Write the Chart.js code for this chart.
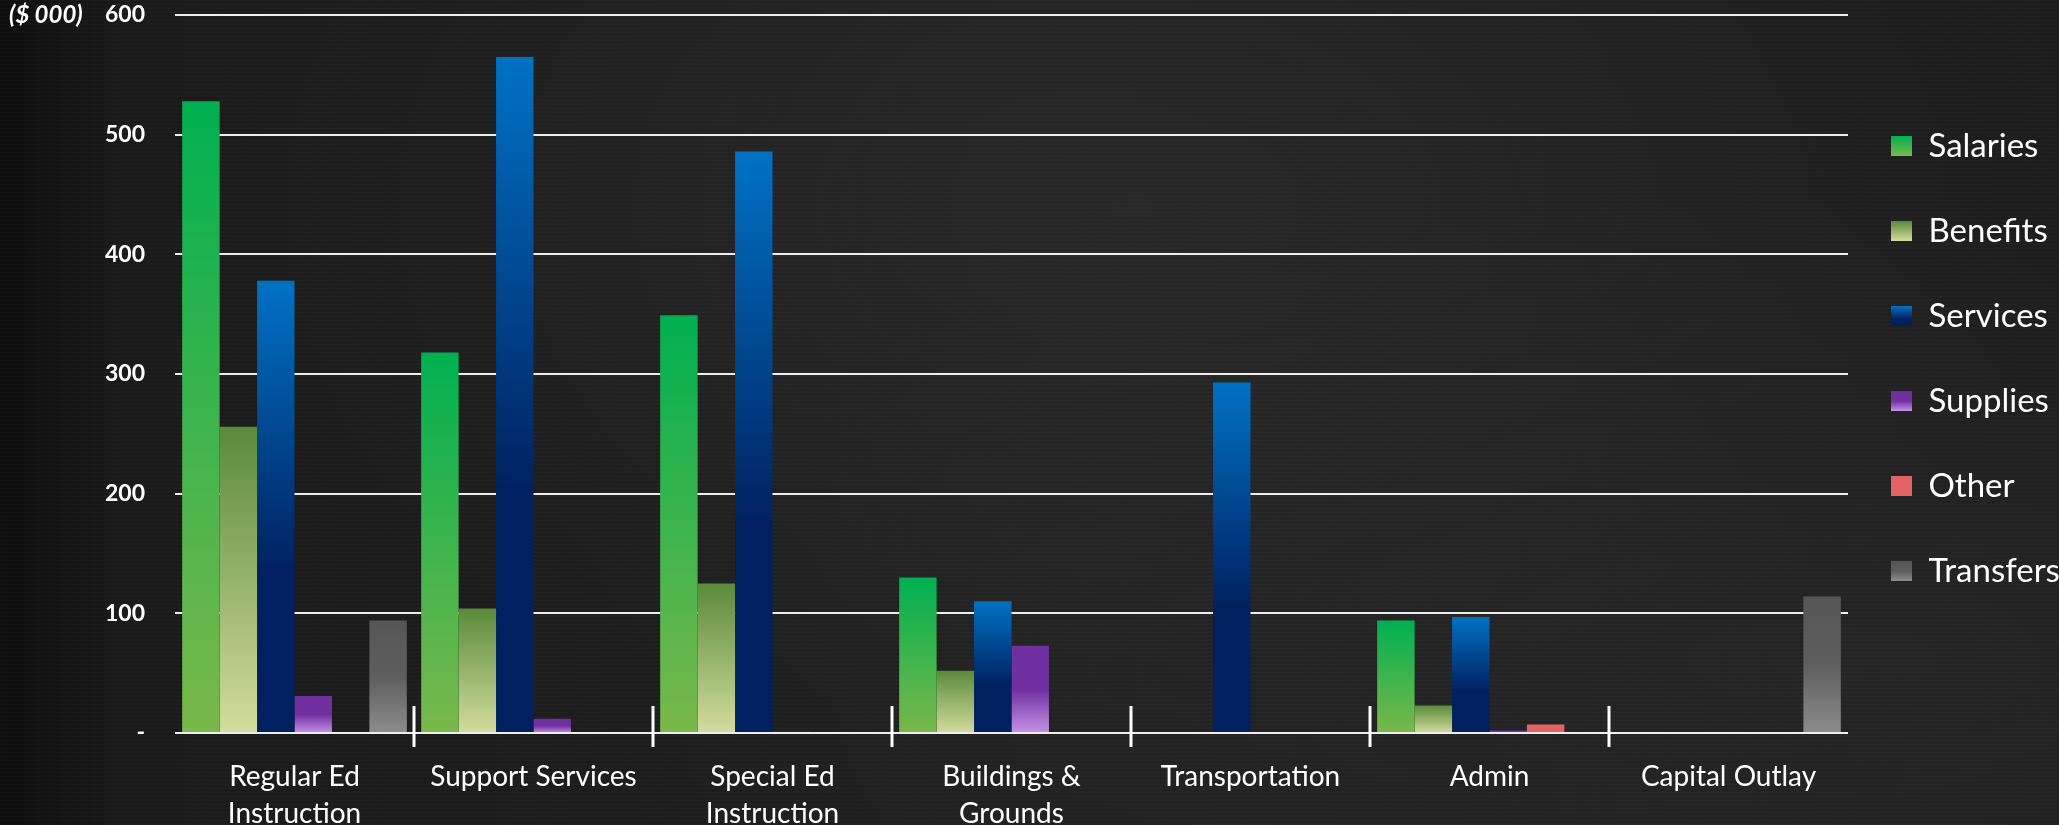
<!DOCTYPE html>
<html>
<head>
<meta charset="utf-8">
<script src="https://cdn.jsdelivr.net/npm/chart.js@4.4.1/dist/chart.umd.min.js"></script>
<style>
  html, body { margin: 0; padding: 0; }
  body {
    width: 2059px; height: 825px; overflow: hidden;
    background:
      repeating-linear-gradient(0deg, rgba(255,255,255,0.018) 0px, rgba(255,255,255,0.018) 1px, rgba(0,0,0,0) 2px, rgba(0,0,0,0) 4px),
      radial-gradient(ellipse at 55% 25%, rgba(60,60,60,0.3) 0%, rgba(0,0,0,0) 60%),
      radial-gradient(ellipse at 90% 80%, rgba(55,55,55,0.3) 0%, rgba(0,0,0,0) 50%),
      linear-gradient(90deg, #0d0d0d 0%, #1a1a1a 6%, #1f1f1f 50%, #1c1c1c 100%);
  }
  canvas { display: block; }
</style>
</head>
<body>
<canvas id="chart" width="2059" height="825"></canvas>
<script>
// categories and values ($ 000)
var categories = [
    ['Regular Ed', 'Instruction'],
    'Support Services',
    ['Special Ed', 'Instruction'],
    ['Buildings &', 'Grounds'],
    'Transportation',
    'Admin',
    'Capital Outlay'
];
var seriesNames = ['Salaries', 'Benefits', 'Services', 'Supplies', 'Other', 'Transfers'];

var salaries  = [528, 318, 349, 130, 0, 94, 0];
var benefits  = [256, 104, 125, 52, 0, 23, 0];
var services  = [378, 565, 486, 110, 293, 97, 0];
var supplies  = [31, 12, 1, 73, 0, 2, 0];
var other     = [0, 0, 0, 0, 0, 7, 0];
var transfers = [94, 0, 0, 0, 0, 0, 114];

var yTickLabels = ['-', '100', '200', '300', '400', '500', '600'];
var unitLabel = '($ 000)';

// gradient stops per series (top -> base of each bar)
var gradStops = [
    [[0, '#00b050'], [1, '#7ab84a']],
    [[0, '#5a8a3a'], [1, '#d3dc9e']],
    [[0, '#0072c4'], [0.65, '#00205f'], [1, '#00205f']],
    [[0, '#7030a0'], [0.5, '#7030a0'], [1, '#c592e6']],
    [[0, '#e36262'], [1, '#e36262']],
    [[0, '#565656'], [0.5, '#5e5e5e'], [1, '#8c8c8c']]
];

// legend sizes
var lgFont = 33, lgBoxW = 21, lgBoxH = 20, lgPad = 43, lgLine = 42, lgTitleGap = 61.5;

function makeGradient(c, top, bottom, stops) {
    var g = c.createLinearGradient(0, top, 0, bottom);
    stops.forEach(function(s) { g.addColorStop(s[0], s[1]); });
    return g;
}

function barGradient(stops) {
    return function(ctx) {
        var chart = ctx.chart;
        if (!chart.chartArea || ctx.type !== 'data') return stops[0][1];
        var y = chart.scales.y;
        var top = y.getPixelForValue(ctx.raw);
        var base = y.getPixelForValue(0);
        if (base - top < 1) return stops[stops.length - 1][1];
        return makeGradient(chart.ctx, top, base, stops);
    };
}

var values = [salaries, benefits, services, supplies, other, transfers];
var datasets = seriesNames.map(function(name, i) {
    return {
        label: name,
        data: values[i],
        backgroundColor: barGradient(gradStops[i]),
        borderWidth: 0,
        categoryPercentage: 0.94,
        barPercentage: 1.0
    };
});

// white separators between categories, crossing the zero line
var separators = {
    id: 'separators',
    afterDatasetsDraw: function(chart) {
        var x = chart.scales.x, y = chart.scales.y, ctx = chart.ctx;
        var zero = y.getPixelForValue(0);
        ctx.save();
        ctx.strokeStyle = '#ffffff';
        ctx.lineWidth = 3;
        for (var i = 1; i < categories.length; i++) {
            var px = (x.getPixelForTick(i - 1) + x.getPixelForTick(i)) / 2;
            ctx.beginPath();
            ctx.moveTo(px, zero - 27);
            ctx.lineTo(px, zero + 14);
            ctx.stroke();
        }
        ctx.restore();
    }
};

// unit caption next to the top tick
var unitCaption = {
    id: 'unitCaption',
    afterDraw: function(chart) {
        var y = chart.scales.y, ctx = chart.ctx;
        ctx.save();
        ctx.font = 'italic bold 24px Lato';
        ctx.fillStyle = '#ffffff';
        ctx.textAlign = 'left';
        ctx.textBaseline = 'middle';
        ctx.fillText(unitLabel, 9, y.getPixelForValue(600));
        ctx.restore();
    }
};

new Chart(document.getElementById('chart'), {
    type: 'bar',
    data: {
        labels: categories,
        datasets: datasets
    },
    options: {
        responsive: false,
        animation: false,
        devicePixelRatio: 1,
        layout: { padding: { top: 15, left: 0, right: 0, bottom: 0 } },
        scales: {
            x: {
                grid: { display: false },
                border: { display: false },
                ticks: {
                    color: '#ffffff',
                    font: { family: 'Lato', size: 28, lineHeight: 37 / 28 },
                    padding: 17,
                    maxRotation: 0,
                    autoSkip: false
                },
                afterFit: function(scale) { scale.height = 92; }
            },
            y: {
                min: 0,
                max: 600,
                grid: {
                    color: 'rgba(255,255,255,0.92)',
                    lineWidth: 2,
                    drawTicks: true,
                    tickLength: 30,
                    tickColor: 'rgba(0,0,0,0)'
                },
                border: { display: false },
                ticks: {
                    stepSize: 100,
                    color: '#ffffff',
                    padding: 0,
                    font: { family: 'Lato', size: 23, weight: 'bold' },
                    callback: function(value, index) { return yTickLabels[index]; }
                },
                afterFit: function(scale) { scale.width = 175; }
            }
        },
        plugins: {
            tooltip: { enabled: false },
            legend: {
                position: 'right',
                align: 'start',
                maxWidth: 211,
                title: { display: true, text: '', font: { size: 10, lineHeight: 1 }, padding: { top: 0, bottom: lgTitleGap } },
                labels: {
                    color: '#ffffff',
                    boxWidth: lgBoxW,
                    boxHeight: lgBoxH,
                    padding: lgPad,
                    font: { family: 'Lato', size: lgFont, lineHeight: lgLine / lgFont },
                    generateLabels: function(chart) {
                        var items = Chart.defaults.plugins.legend.labels.generateLabels(chart);
                        var lg = chart.legend;
                        items.forEach(function(item, i) {
                            var stops = gradStops[item.datasetIndex];
                            item.text = [item.text];
                            item.lineWidth = 0;
                            item.strokeStyle = stops[0][1];
                            if (lg && typeof lg.top === 'number') {
                                var top = lg.top + 10 + lgTitleGap + lgPad + i * (lgLine + lgPad) + (lgFont - lgBoxH) / 2;
                                item.fillStyle = makeGradient(chart.ctx, top, top + lgBoxH, stops);
                            } else {
                                item.fillStyle = stops[0][1];
                            }
                        });
                        return items;
                    }
                }
            }
        }
    },
    plugins: [separators, unitCaption]
});
</script>
</body>
</html>
